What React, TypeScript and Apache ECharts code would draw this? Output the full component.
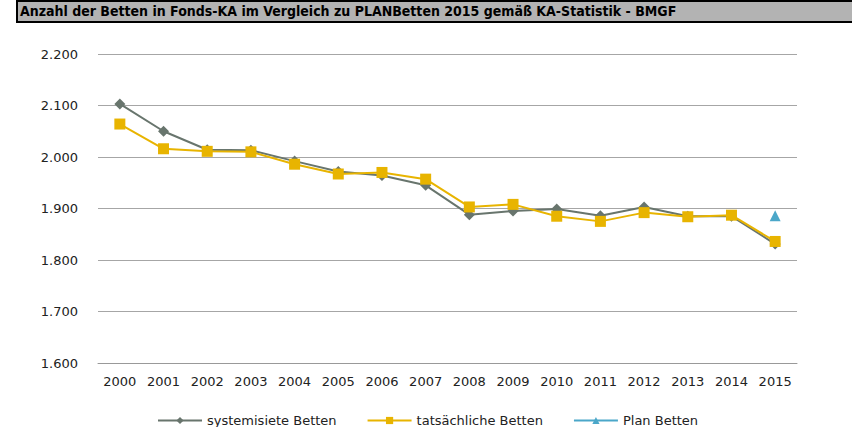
import React, { useEffect, useRef } from "react";
import * as echarts from "echarts";

const years = ["2000","2001","2002","2003","2004","2005","2006","2007","2008","2009","2010","2011","2012","2013","2014","2015"];
const systemisiert = [2103, 2050, 2014, 2013, 1992, 1972, 1964, 1945, 1888, 1895, 1899, 1886, 1903, 1885, 1885, 1831];
const tatsaechlich = [2064, 2016, 2011, 2010, 1986, 1967, 1970, 1957, 1903, 1908, 1885, 1875, 1892, 1884, 1887, 1836];
const plan = [null, null, null, null, null, null, null, null, null, null, null, null, null, null, null, 1886];

const fmt = (v: number) => {
  const s = Math.round(v).toString();
  return s.length > 3 ? s.slice(0, s.length - 3) + "." + s.slice(-3) : s;
};

export default function App() {
  const ref = useRef<HTMLDivElement>(null);
  useEffect(() => {
    const chart = echarts.init(ref.current!, null, { renderer: "svg" });
    const font = "DejaVu Sans";
    chart.setOption({
      animation: false,
      textStyle: { fontFamily: font },
      graphic: [
        {
          type: "rect",
          shape: { x: 17, y: 1, width: 860, height: 21 },
          style: { fill: "#b3b3b3", stroke: "#000", lineWidth: 2 },
        },
        {
          type: "text",
          x: 20,
          y: 4,
          style: {
            text: "Anzahl der Betten in Fonds-KA im Vergleich zu PLANBetten 2015 gemäß KA-Statistik - BMGF",
            font: "bold 14px 'DejaVu Sans Condensed'",
            fill: "#000",
          },
        },
      ],
      grid: { left: 98, right: 55, top: 54, bottom: 64 },
      xAxis: {
        type: "category",
        data: years,
        boundaryGap: true,
        axisLine: { show: true, lineStyle: { color: "#999" } },
        axisTick: { show: false },
        axisLabel: { color: "#222", fontSize: 13, margin: 12, fontFamily: font },
      },
      yAxis: {
        type: "value",
        min: 1600,
        max: 2200,
        interval: 100,
        axisLine: { show: false },
        axisTick: { show: false },
        splitLine: { lineStyle: { color: "#a6a6a6", width: 1 } },
        axisLabel: { color: "#222", fontSize: 13, margin: 20, formatter: fmt, fontFamily: font },
      },
      legend: {
        bottom: -5,
        left: 152,
        itemWidth: 44,
        itemHeight: 9,
        itemGap: 30,
        textStyle: { color: "#222", fontSize: 13, fontFamily: font },
        data: ["systemisiete Betten", "tatsächliche Betten", "Plan Betten"],
      },
      series: [
        {
          name: "systemisiete Betten",
          type: "line",
          data: systemisiert,
          symbol: "diamond",
          symbolSize: 11,
          color: "#68756d",
          lineStyle: { width: 2, color: "#68756d" },
          itemStyle: { color: "#68756d" },
        },
        {
          name: "tatsächliche Betten",
          type: "line",
          data: tatsaechlich,
          symbol: "rect",
          symbolSize: 11,
          color: "#e8b400",
          lineStyle: { width: 2, color: "#e8b400" },
          itemStyle: { color: "#e8b400" },
        },
        {
          name: "Plan Betten",
          type: "line",
          data: plan,
          symbol: "triangle",
          symbolSize: 11,
          color: "#4ba7c9",
          lineStyle: { width: 2, color: "#4ba7c9" },
          itemStyle: { color: "#4ba7c9" },
        },
      ],
    });
    return () => chart.dispose();
  }, []);
  return <div ref={ref} style={{ width: 852, height: 427, position: "absolute", left: 0, top: 0 }} />;
}
